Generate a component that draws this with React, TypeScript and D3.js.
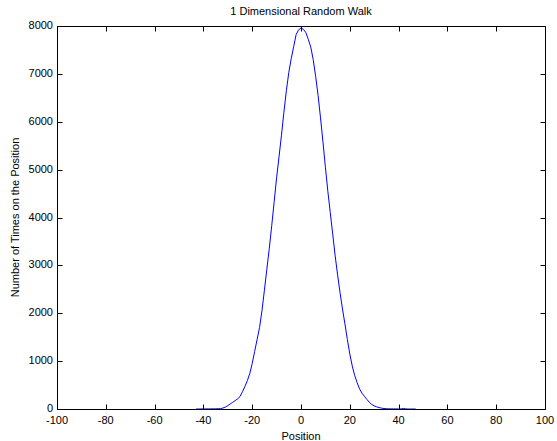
import React from "react";
import * as d3 from "d3";

const positions: number[] = d3.range(-43, 48);
const counts: number[] = [
  // -43 .. -1
  0, 0, 1, 1, 2, 2, 3, 3, 4, 5, 8, 20, 40, 70, 105, 140, 175, 210, 260, 360,
  470, 590, 740, 950, 1200, 1450, 1700, 2050, 2480, 2920, 3350, 3830, 4330, 4830, 5270, 5720,
  6200, 6650, 7030, 7320, 7570, 7820, 7920,
  // 0
  7960,
  // 1 .. 47
  7930, 7860, 7720, 7560, 7300, 6950, 6550, 6080, 5580, 5050, 4550, 4100, 3650, 3200, 2800, 2430,
  2090, 1780, 1450, 1150, 900, 700, 550, 420, 330, 265, 200, 140, 95, 65, 45, 30,
  18, 10, 6, 4, 3, 2, 2, 1, 1, 12, 1, 0, 0, 0, 0,
];
const xTicks: number[] = [-100, -80, -60, -40, -20, 0, 20, 40, 60, 80, 100];
const yTicks: number[] = [0, 1000, 2000, 3000, 4000, 5000, 6000, 7000, 8000];

const W = 557;
const H = 441;
const L = 57;
const R = 545;
const T = 26;
const B = 409;
const FONT = "'Liberation Sans', Arial, sans-serif";

export default function App() {
  const x = d3.scaleLinear().domain([-100, 100]).range([L, R]);
  const y = d3.scaleLinear().domain([0, 8000]).range([B, T]);
  const data = positions.map((p, i) => ({ p, c: counts[i] }));
  const line = d3
    .line<{ p: number; c: number }>()
    .x((d) => x(d.p))
    .y((d) => y(d.c));
  const tl = 5;
  return (
    <svg
      width={W}
      height={H}
      style={{ position: "absolute", left: 0, top: 0, background: "#fff" }}
      fontFamily={FONT}
    >
      <rect x={0} y={0} width={W} height={H} fill="#fff" />
      <path d={line(data) ?? ""} fill="none" stroke="#0000ff" strokeWidth={1} />
      <rect
        x={L + 0.5}
        y={T + 0.5}
        width={R - L}
        height={B - T}
        fill="none"
        stroke="#000"
        strokeWidth={1}
      />
      {xTicks.map((t) => {
        const px = Math.round(x(t)) + 0.5;
        return (
          <g key={"x" + t}>
            <line x1={px} x2={px} y1={B + 0.5} y2={B + 0.5 - tl} stroke="#000" />
            <line x1={px} x2={px} y1={T + 0.5} y2={T + 0.5 + tl} stroke="#000" />
            <text
              x={x(t)}
              y={B + 15}
              textAnchor="middle"
              fontSize={11}
              fill="#000"
            >
              {t}
            </text>
          </g>
        );
      })}
      {yTicks.map((t) => {
        const py = Math.round(y(t)) + 0.5;
        return (
          <g key={"y" + t}>
            <line x1={L + 0.5} x2={L + 0.5 + tl} y1={py} y2={py} stroke="#000" />
            <line x1={R + 0.5} x2={R + 0.5 - tl} y1={py} y2={py} stroke="#000" />
            <text
              x={L - 4}
              y={y(t) + 3}
              textAnchor="end"
              fontSize={11}
              fill="#000"
            >
              {t}
            </text>
          </g>
        );
      })}
      <text x={(L + R) / 2} y={15} textAnchor="middle" fontSize={11} fill="#000">
        1 Dimensional Random Walk
      </text>
      <text x={(L + R) / 2} y={440} textAnchor="middle" fontSize={11} fill="#000">
        Position
      </text>
      <text
        transform={`translate(19, ${(T + B) / 2}) rotate(-90)`}
        textAnchor="middle"
        fontSize={11}
        fill="#000"
      >
        Number of Times on the Position
      </text>
    </svg>
  );
}
